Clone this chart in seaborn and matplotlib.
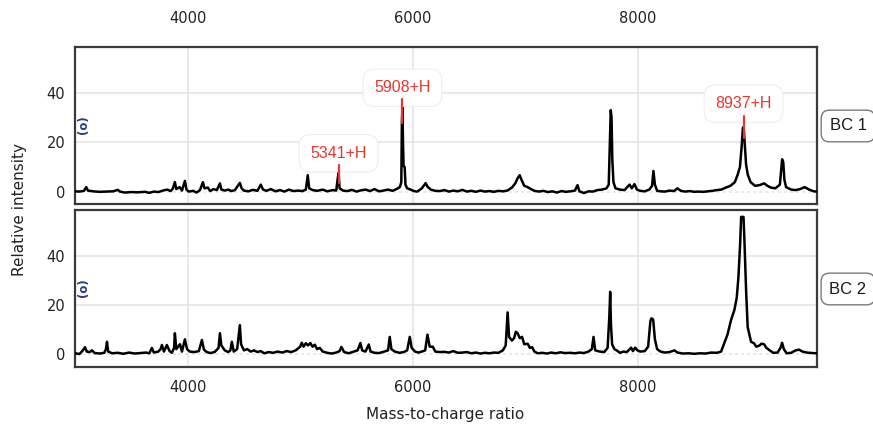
import matplotlib
matplotlib.use("Agg")
import matplotlib.pyplot as plt
import numpy as np
import pandas as pd
import seaborn as sns

# spectrum BC 1 (m/z, relative intensity)
bc1_mz = [3000, 3040, 3080, 3100, 3115, 3160, 3220, 3280, 3340, 3380, 3400, 3440,
          3500, 3560, 3620, 3660, 3700, 3740, 3780, 3820, 3850, 3870, 3887, 3900,
          3930, 3950, 3976, 3990, 4010, 4050, 4080, 4110, 4136, 4150, 4180, 4200,
          4230, 4260, 4287, 4300, 4330, 4360, 4390, 4420, 4464, 4480, 4500, 4540,
          4580, 4620, 4650, 4670, 4700, 4740, 4780, 4820, 4860, 4900, 4940, 4980,
          5020, 5050, 5067, 5080, 5110, 5150, 5200, 5240, 5290, 5320, 5332, 5341,
          5350, 5380, 5420, 5460, 5500, 5540, 5580, 5620, 5660, 5700, 5740, 5780,
          5820, 5860, 5885, 5898, 5903, 5908, 5913, 5918, 5928, 5935, 5950, 5980,
          6010, 6040, 6080, 6114, 6130, 6160, 6200, 6240, 6280, 6320, 6360, 6400,
          6440, 6480, 6520, 6560, 6600, 6640, 6680, 6720, 6760, 6800, 6840, 6880,
          6910, 6930, 6949, 6965, 6990, 7020, 7050, 7080, 7120, 7160, 7200, 7240,
          7280, 7320, 7360, 7400, 7440, 7463, 7480, 7520, 7560, 7600, 7640, 7680,
          7720, 7740, 7752, 7758, 7765, 7772, 7782, 7800, 7840, 7880, 7925, 7945,
          7969, 7990, 8020, 8060, 8100, 8125, 8137, 8150, 8170, 8200, 8240, 8280,
          8320, 8350, 8380, 8420, 8460, 8500, 8540, 8580, 8620, 8660, 8700, 8740,
          8780, 8820, 8860, 8885, 8905, 8920, 8932, 8940, 8950, 8960, 8975, 9000,
          9040, 9080, 9120, 9150, 9180, 9220, 9260, 9272, 9280, 9290, 9300, 9315,
          9360, 9400, 9440, 9480, 9520, 9560, 9590]
bc1_int = [0.3, 0.2, 0.5, 2.0, 0.6, 0.3, 0.1, 0.2, 0.3, 0.9, 0.2, -0.2,
           0.0, -0.1, 0.1, -0.3, 0.2, 0.0, 0.6, 1.0, 0.4, 1.5, 4.0, 1.2,
           2.0, 0.6, 4.5, 1.0, 0.2, 0.5, -0.2, 0.8, 4.0, 1.5, 1.8, 0.4,
           1.2, 0.8, 3.5, 1.0, 0.6, 1.0, 0.4, 0.8, 3.7, 1.5, 0.6, 0.3,
           0.9, 0.5, 3.0, 1.0, 0.5, 1.2, 0.3, 0.8, 0.2, 1.0, 0.4, 0.6,
           0.4, 1.0, 6.8, 1.5, 0.8, 0.5, 1.0, 0.3, 0.8, 0.6, 5.0, 7.7,
           1.5, 0.6, 0.4, 0.9, 0.2, 0.7, 1.0, 0.4, 1.2, 0.3, 0.6, 1.0,
           0.5, 1.3, 2.0, 4.0, 28.0, 34.0, 20.0, 10.5, 10.0, 3.0, 1.5, 1.0,
           0.4, 0.2, 1.5, 3.6, 2.2, 1.0, 0.5, 0.4, 0.8, 0.2, 0.6, 0.3,
           0.9, 0.2, 0.5, 0.1, 0.6, 0.2, 0.4, 0.1, 0.5, 0.3, 0.6, 1.8,
           3.5, 5.5, 6.8, 5.0, 2.5, 2.0, 1.2, 0.5, 0.2, 0.5, 0.0, 0.3,
           -0.2, 0.4, 0.1, 0.3, 0.6, 2.8, 0.3, -0.4, 0.3, 0.2, 0.8, 1.0,
           1.5, 3.0, 22.0, 33.0, 30.0, 13.0, 4.0, 1.5, 1.0, 0.8, 3.0, 1.5,
           3.2, 1.0, 0.5, 0.3, 1.0, 2.5, 8.5, 3.0, 0.5, 0.3, 0.2, 0.6,
           0.4, 1.5, 0.5, 0.2, 0.4, 0.1, 0.2, 0.1, 0.3, 0.5, 0.8, 1.0,
           1.8, 2.5, 4.0, 7.0, 10.0, 18.0, 26.0, 25.0, 18.0, 11.0, 7.0, 4.0,
           2.5, 2.8, 3.5, 2.5, 1.8, 1.5, 3.0, 9.0, 13.2, 12.0, 5.0, 2.0,
           1.0, 0.8, 1.2, 2.0, 1.0, 0.3, 0.2]

# spectrum BC 2
bc2_mz = [3000, 3040, 3070, 3089, 3105, 3130, 3151, 3175, 3220, 3260, 3275, 3284,
          3295, 3330, 3380, 3430, 3480, 3530, 3580, 3630, 3660, 3683, 3700, 3740,
          3760, 3772, 3790, 3816, 3840, 3860, 3880, 3887, 3900, 3932, 3950, 3976,
          3995, 4020, 4060, 4100, 4127, 4145, 4170, 4200, 4240, 4275, 4287, 4300,
          4330, 4360, 4380, 4393, 4410, 4440, 4464, 4475, 4500, 4530, 4560, 4590,
          4620, 4650, 4680, 4720, 4760, 4800, 4840, 4880, 4920, 4960, 5000, 5014,
          5030, 5050, 5070, 5090, 5110, 5130, 5150, 5174, 5200, 5240, 5280, 5320,
          5350, 5366, 5390, 5430, 5470, 5510, 5535, 5550, 5580, 5609, 5625, 5660,
          5700, 5740, 5780, 5795, 5810, 5840, 5880, 5920, 5950, 5973, 5990, 6020,
          6050, 6080, 6110, 6130, 6150, 6177, 6200, 6240, 6280, 6320, 6360, 6400,
          6440, 6480, 6520, 6560, 6600, 6640, 6680, 6720, 6760, 6800, 6825, 6842,
          6855, 6880, 6900, 6915, 6931, 6950, 6970, 6990, 7020, 7040, 7060, 7080,
          7110, 7150, 7190, 7230, 7270, 7310, 7350, 7400, 7440, 7480, 7520, 7560,
          7590, 7605, 7620, 7660, 7700, 7730, 7745, 7753, 7760, 7770, 7790, 7810,
          7840, 7870, 7900, 7939, 7955, 7975, 7995, 8020, 8060, 8090, 8110, 8120,
          8135, 8150, 8170, 8200, 8240, 8280, 8324, 8350, 8400, 8450, 8500, 8550,
          8600, 8650, 8700, 8738, 8767, 8795, 8827, 8856, 8877, 8892, 8907, 8916,
          8937, 8945, 8960, 8974, 9004, 9030, 9050, 9080, 9095, 9120, 9140, 9170,
          9200, 9240, 9265, 9280, 9295, 9320, 9360, 9400, 9430, 9460, 9500, 9550,
          9590]
bc2_int = [0.3, 0.0, 1.5, 2.8, 1.0, 0.8, 1.5, 0.4, 0.2, 0.5, 2.0, 5.0,
           1.0, 0.3, 0.5, 0.1, 0.6, 0.2, 0.4, 0.6, 0.3, 2.5, 0.6, 1.0,
           2.0, 3.7, 1.0, 3.7, 1.2, 0.5, 2.5, 8.5, 2.0, 4.0, 1.0, 6.0,
           2.0, 1.0, 0.8, 1.2, 5.7, 1.8, 0.8, 0.4, 0.8, 2.5, 8.5, 3.5,
           1.5, 0.8, 1.5, 5.0, 1.0, 2.0, 11.8, 4.0, 1.5, 2.0, 1.0, 1.5,
           0.8, 1.2, 0.3, 0.8, 0.5, 1.0, 0.6, 1.2, 0.8, 1.5, 3.0, 4.6,
           3.0, 4.4, 3.5, 4.5, 3.0, 3.8, 2.0, 2.5, 1.0, 0.5, 0.2, 0.6,
           1.2, 2.9, 0.8, 0.3, 0.9, 1.5, 4.5, 1.5, 1.0, 3.9, 1.0, 0.5,
           0.4, 0.9, 1.5, 7.0, 2.0, 1.0, 0.5, 0.8, 1.5, 7.0, 2.5, 1.0,
           0.6, 1.0, 1.5, 7.9, 3.0, 3.0, 1.0, 0.8, 0.9, 0.6, 1.2, 0.5,
           0.6, 0.8, 0.3, 0.6, 0.2, 0.5, 0.3, 0.6, 0.5, 1.5, 3.5, 17.0,
           7.0, 5.5, 6.5, 9.1, 8.5, 6.5, 7.0, 4.0, 4.2, 2.5, 2.8, 1.0,
           0.3, 0.5, 0.2, 0.6, 0.3, 0.7, 0.4, 0.5, 0.3, 0.6, 0.4, 1.0,
           2.0, 7.0, 1.5, 1.0, 0.8, 2.5, 15.0, 25.4, 12.0, 4.0, 2.0, 1.5,
           0.5, 1.0, 0.8, 2.6, 1.2, 2.6, 1.5, 1.0, 1.2, 3.0, 13.5, 14.6,
           14.0, 6.0, 2.0, 1.0, 0.6, 0.8, 1.5, 0.6, 0.2, 0.3, 0.1, 0.3,
           0.2, 0.6, 0.5, 1.0, 4.5, 8.0, 14.0, 18.0, 23.0, 31.5, 45.0, 56.0,
           56.0, 46.5, 26.0, 11.0, 5.0, 4.4, 3.0, 3.5, 4.2, 4.0, 2.5, 1.5,
           0.5, 0.6, 2.5, 4.6, 2.0, 0.3, 0.5, 1.5, 1.8, 1.0, 0.6, 0.4,
           0.3]

# annotated peaks on BC 1
annot_mz = [5341, 5908, 8937]
annot_lo = [3.6, 28.0, 21.6]
annot_hi = [11.0, 37.6, 30.8]
annot_text = ["5341+H", "5908+H", "8937+H"]
annot_label_y = [15.6, 42.0, 35.6]

panel_names = ["BC 1", "BC 2"]
x_ticks = [4000, 6000, 8000]
y_ticks = [0, 20, 40]

df = pd.concat([
    pd.DataFrame({"mz": bc1_mz, "intensity": bc1_int, "panel": "BC 1"}),
    pd.DataFrame({"mz": bc2_mz, "intensity": bc2_int, "panel": "BC 2"}),
])

sns.set_theme(style="white")
plt.rcParams["font.family"] = ["DejaVu Sans"]

fig = plt.figure(figsize=(8.73, 4.30), dpi=100)
ax1 = fig.add_axes([0.0859, 0.5256, 0.850, 0.365])
ax2 = fig.add_axes([0.0859, 0.1465, 0.850, 0.365])
axes = [ax1, ax2]
ylims = [(-4.8, 58.4), (-5.3, 58.8)]
strip_y = [1 - 126 / 430, 1 - 289 / 430]

for ax, name, yl, sy in zip(axes, panel_names, ylims, strip_y):
    for xt in x_ticks:
        ax.axvline(xt, color="#e3e3e3", lw=1.1, zorder=0)
    for yt in y_ticks:
        ax.axhline(yt, color="#e3e3e3", lw=1.1, zorder=0,
                   ls=(0, (2, 2)) if yt == 0 else "-")
    sub = df[df["panel"] == name]
    sns.lineplot(data=sub, x="mz", y="intensity", ax=ax, color="black",
                 lw=1.8, estimator=None, sort=False, zorder=3)
    ax.set_xlim(3000, 9590)
    ax.set_ylim(*yl)
    ax.set_xticks(x_ticks)
    ax.set_yticks(y_ticks)
    ax.set_xlabel("")
    ax.set_ylabel("")
    ax.tick_params(length=0, labelsize=10.5, colors="#222222")
    ax.tick_params(axis="y", pad=7)
    for sp in ax.spines.values():
        sp.set_color("#3a3a3a")
        sp.set_linewidth(1.6)
    # blue marker near the left edge
    ax.text(3075, 27, "(o)", rotation=90, color="#2e3a8c", fontsize=8.5,
            fontweight="bold", ha="center", va="center", zorder=4)
    fig.text(848 / 873, sy, name, ha="center", va="center", fontsize=12,
             family=["Liberation Sans", "DejaVu Sans"], color="#1a1a1a",
             bbox=dict(boxstyle="round,pad=0.5", fc="white", ec="#7a7a7a", lw=1))

ax1.xaxis.tick_top()
ax1.tick_params(axis="x", pad=15)
ax2.tick_params(axis="x", pad=9)

for mz, lo, hi, txt, ly in zip(annot_mz, annot_lo, annot_hi, annot_text, annot_label_y):
    ax1.plot([mz, mz], [lo, hi], color="#e8372f", lw=1.6, zorder=4)
    ax1.text(mz, ly, txt, ha="center", va="center", color="#e8372f", fontsize=11.5,
             family=["Liberation Sans", "DejaVu Sans"], zorder=2,
             bbox=dict(boxstyle="round,pad=0.7", fc="white", ec="#eeeeee", lw=0.8))

fig.text(20 / 873, 1 - 210 / 430, "Relative intensity", rotation=90,
         ha="center", va="center", fontsize=11, color="#222222")
fig.text(445 / 873, 1 - 414 / 430, "Mass-to-charge ratio",
         ha="center", va="center", fontsize=11, color="#222222")

fig.savefig("out.png", dpi=100)
